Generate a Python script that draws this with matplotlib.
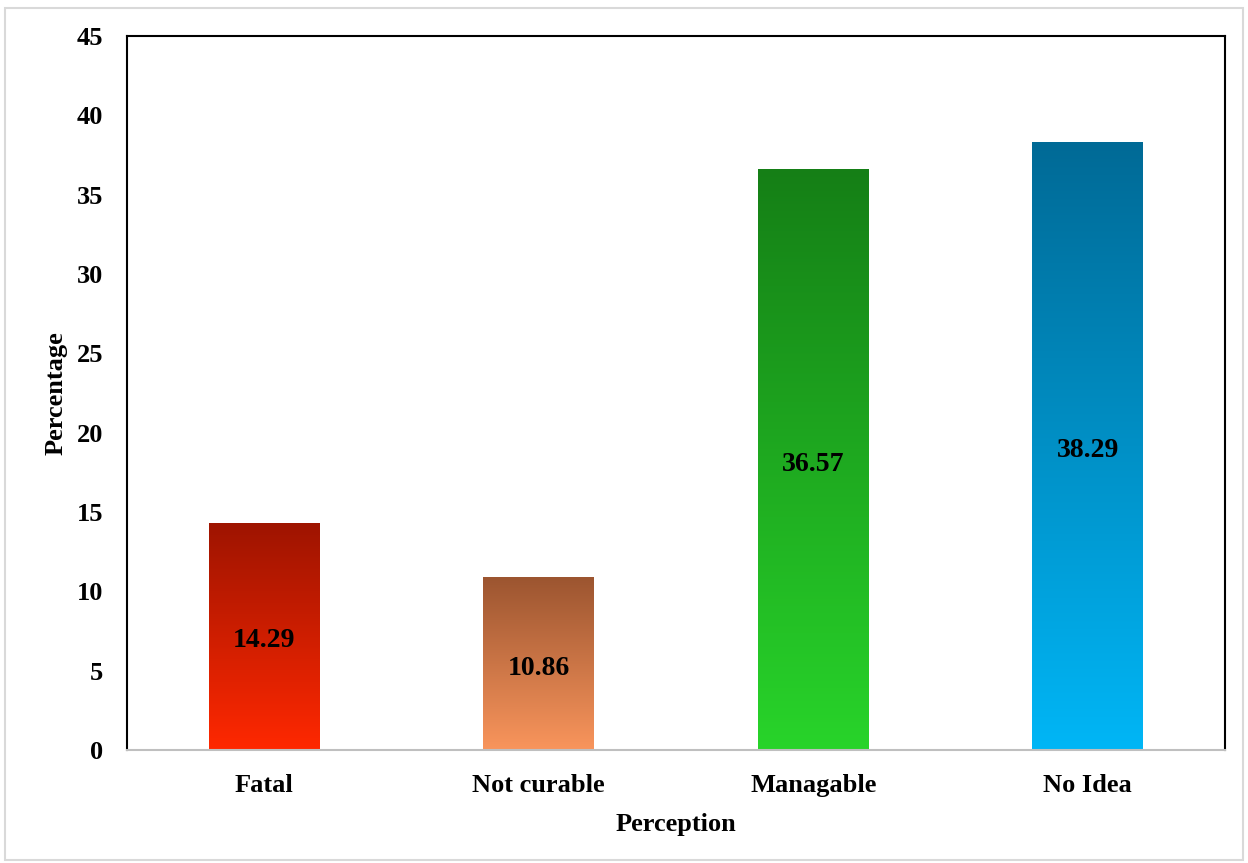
import numpy as np
import matplotlib.pyplot as plt
from matplotlib.colors import LinearSegmentedColormap
from matplotlib.patches import Rectangle

# data
categories = ['Fatal', 'Not curable', 'Managable', 'No Idea']
values = [14.29, 10.86, 36.57, 38.29]
# gradient colours for each bar (bottom, top)
bottom_colors = ['#FF2800', '#F9955C', '#28D42A', '#00B6F6']
top_colors = ['#9E1400', '#9C5530', '#157F16', '#006A96']

plt.rcParams['font.family'] = ['Liberation Serif', 'DejaVu Serif']
plt.rcParams['font.weight'] = 'bold'

fig = plt.figure(figsize=(12.48, 8.63), dpi=100)
ax = fig.add_axes([127/1248, 1 - 750/863, (1225-127)/1248, (750-36)/863])

x = np.arange(len(categories))
w = 0.404
grad = np.linspace(0, 1, 256).reshape(-1, 1)
for i in range(len(categories)):
    cmap = LinearSegmentedColormap.from_list('g%d' % i, [bottom_colors[i], top_colors[i]])
    ax.imshow(grad, cmap=cmap, origin='lower', aspect='auto',
              extent=[x[i] - w/2, x[i] + w/2, 0, values[i]], zorder=2)
    ax.annotate('%.2f' % values[i], (x[i], values[i]/2), xytext=(0, -3),
                textcoords='offset points', ha='center', va='center',
                fontsize=20, fontweight='bold', zorder=3)

ax.set_xlim(-0.5, 3.5)
ax.set_ylim(0, 45)
ax.set_yticks(range(0, 46, 5))
ax.set_xticks(x)
ax.set_xticklabels(categories)
ax.tick_params(axis='both', length=0, labelsize=19)
ax.tick_params(axis='x', pad=17)
ax.tick_params(axis='y', pad=17)
for s in ['left', 'right', 'top']:
    ax.spines[s].set_linewidth(1.5)
    ax.spines[s].set_color('black')
ax.spines['bottom'].set_color('#BFBFBF')
ax.spines['bottom'].set_linewidth(1.5)

ax.set_xlabel('Perception', fontsize=19, fontweight='bold', labelpad=12)
ax.set_ylabel('Percentage', fontsize=19, fontweight='bold', labelpad=7)

# light grey outer frame
fig.patches.append(Rectangle((5/1248, 1 - 860/863), 1238/1248, 852/863,
                             transform=fig.transFigure, fill=False,
                             edgecolor='#D9D9D9', linewidth=1.5))

plt.savefig('out.png', dpi=100)
